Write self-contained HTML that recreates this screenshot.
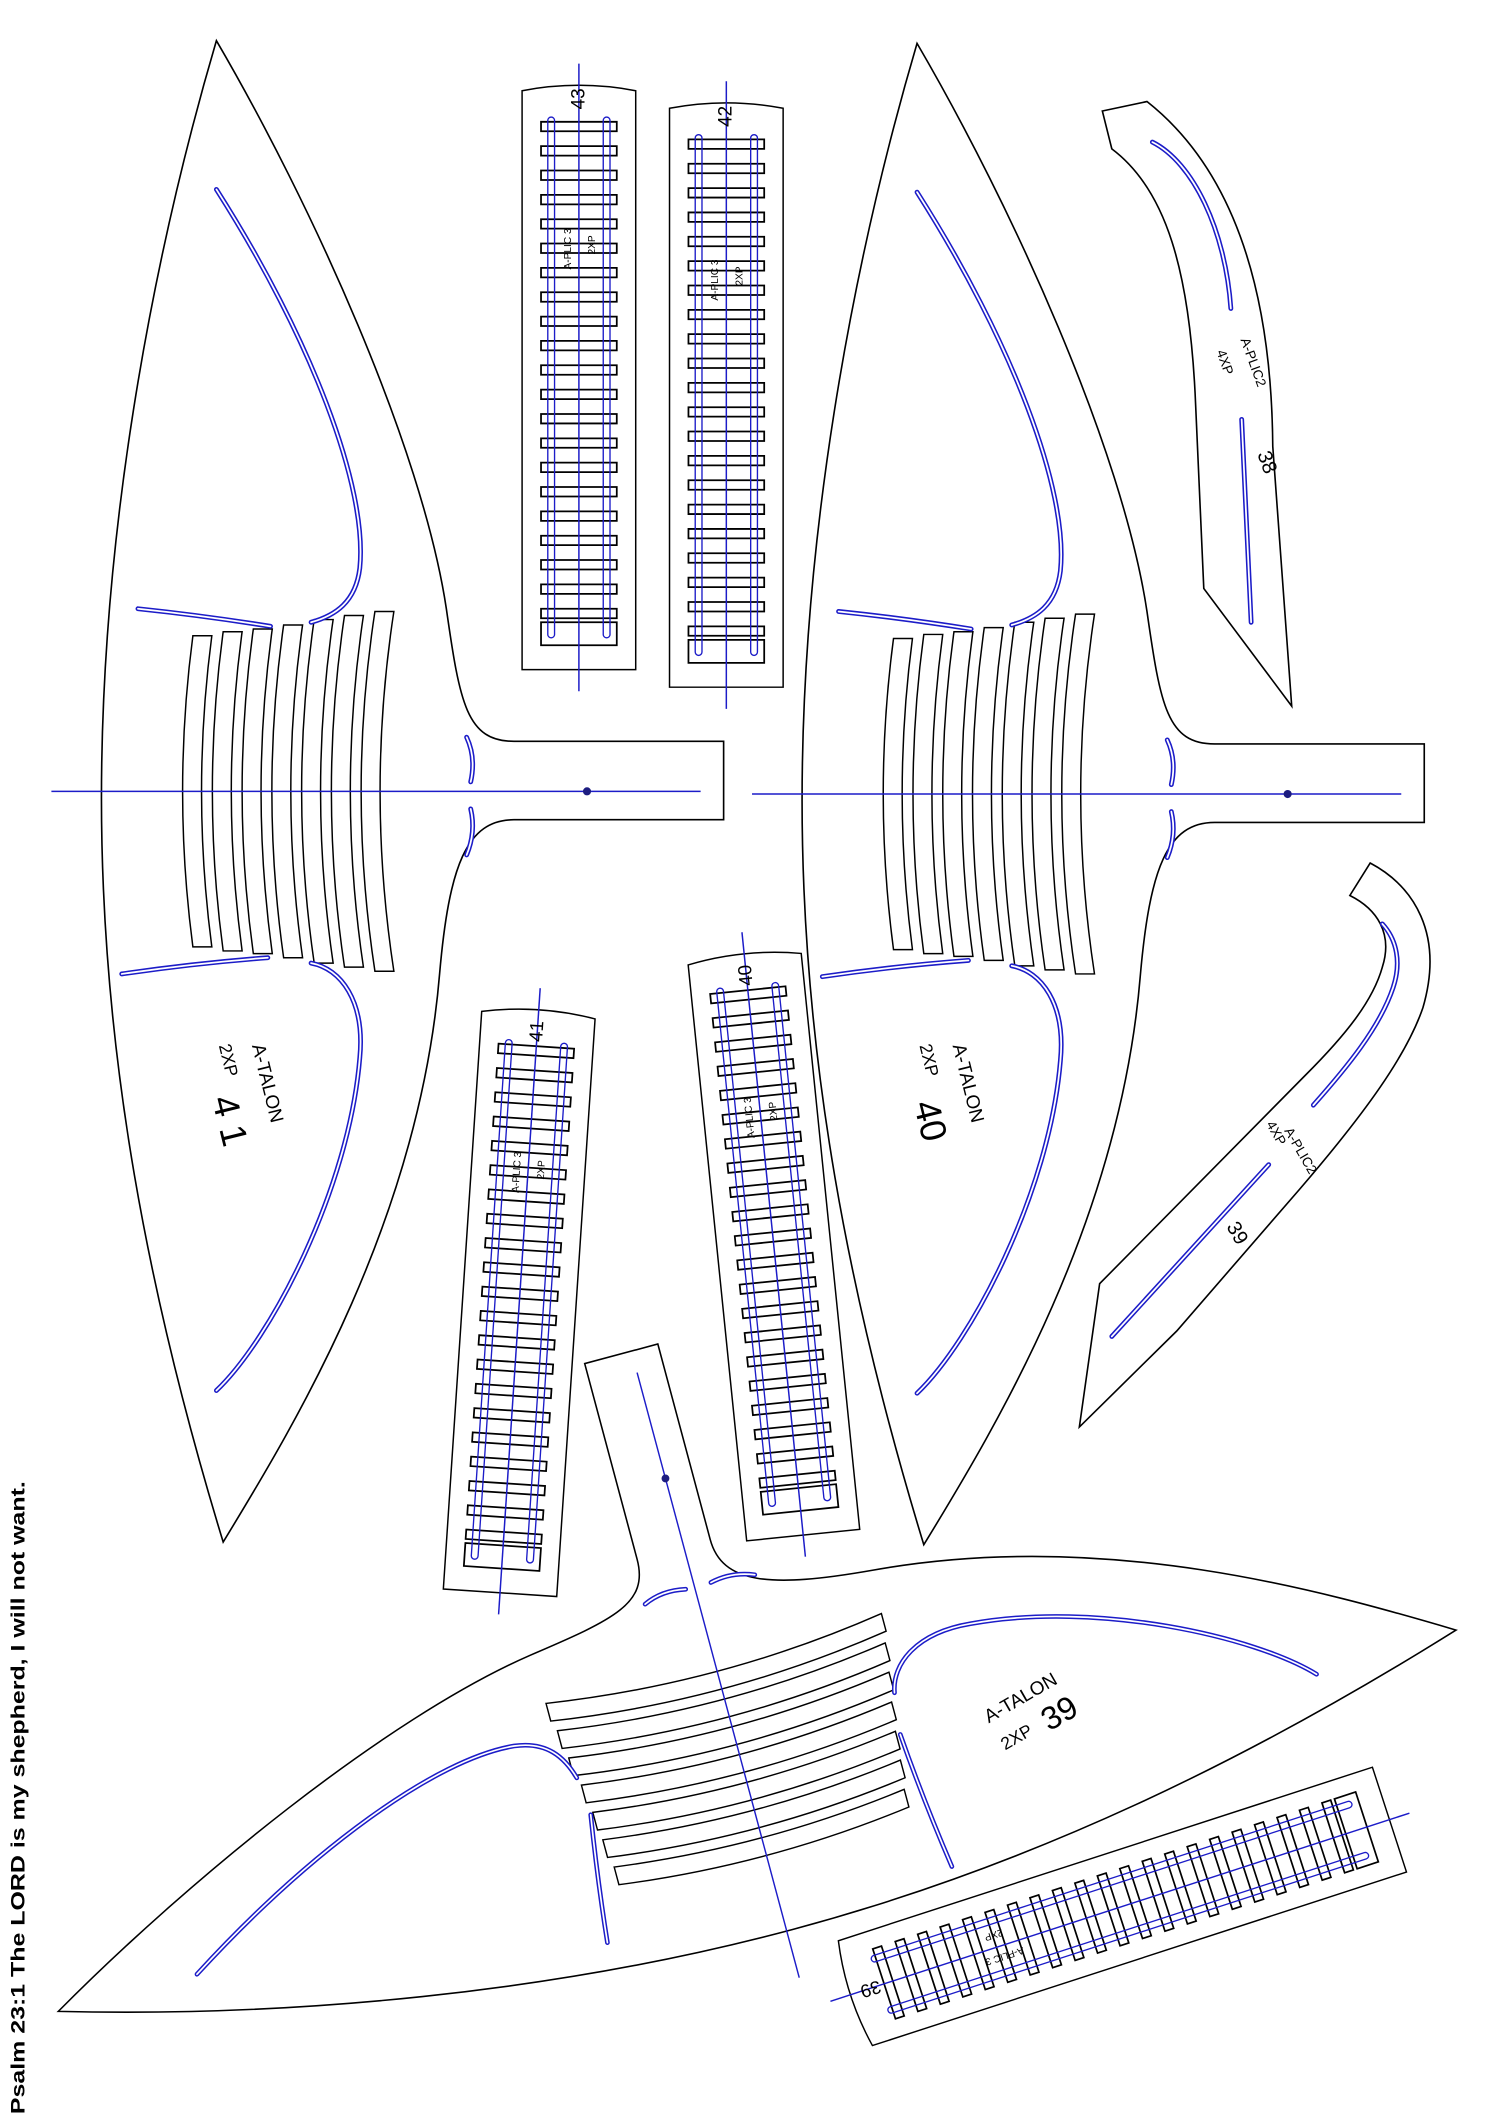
<!DOCTYPE html>
<html><head><meta charset="utf-8"><style>
html,body{margin:0;padding:0;background:#fff}
svg{display:block}
text{font-family:"Liberation Sans",Arial,sans-serif;fill:#000}
</style></head><body>
<svg width="1500" height="2121" viewBox="0 0 1109 1568" xmlns="http://www.w3.org/2000/svg">
<defs>
 <g id="tb" fill="none">
  <path d="M160,140 C230,250 272,360 266,420 C263,445 248,455 230,460"/>
  <path d="M102,450 Q150,455 200,463"/>
  <path d="M90,720 Q145,712 198,708"/>
  <path d="M230,712 C252,716 270,740 266,782 C258,880 200,990 160,1028"/>
  <path d="M345,545 Q352,560 348,578"/>
  <path d="M348,598 Q352,615 345,632"/>
 </g>
 <g id="tal">
  <path d="M160,30 C230,150 312,330 330,450 C340,520 345,548 380,548 L535,548 L535,606 L380,606 C345,606 332,640 325,720 C310,900 220,1050 165,1140 C110,960 75,780 75,590 C75,400 110,200 160,30 Z" fill="none" stroke="#000" stroke-width="1.2"/>
  <g fill="none" stroke="#000" stroke-width="1.1">
   <path d="M142.6,470 Q127.4,585 142.6,700 H156.6 Q141.4,585 156.6,470Z"/>
   <path d="M165,467 Q149,585 165,703 H179 Q163,585 179,467Z"/>
   <path d="M187.3,465 Q170.7,585 187.3,705 H201.3 Q184.7,585 201.3,465Z"/>
   <path d="M209.7,462 Q192.3,585 209.7,708 H223.7 Q206.3,585 223.7,462Z"/>
   <path d="M232.3,458 Q213.7,585 232.3,712 H246.3 Q227.7,585 246.3,458Z"/>
   <path d="M254.7,455 Q235.3,585 254.7,715 H268.7 Q249.3,585 268.7,455Z"/>
   <path d="M277.2,452 Q256.8,585 277.2,718 H291.2 Q270.8,585 291.2,452Z"/>
  </g>
  <g stroke="#1c1cc8" stroke-width="3.6" stroke-linecap="round"><use href="#tb"/></g>
  <g stroke="#fff" stroke-width="1.3" stroke-linecap="round"><use href="#tb"/></g>
  <path d="M38,585 H518" stroke="#1c1cc8" stroke-width="1.1"/>
  <circle cx="434" cy="585" r="3" fill="#1c1c80"/>
 </g>
 <g id="trk">
  <path d="M-42,216 V-212 Q0,-220 42,-212 V216 Z" fill="none" stroke="#000" stroke-width="1.1"/>
  <path fill="none" stroke="#000" stroke-width="1.3" d="M-28,-189h56v7h-56zM-28,-171h56v7h-56zM-28,-153h56v7h-56zM-28,-135h56v7h-56zM-28,-117h56v7h-56zM-28,-99h56v7h-56zM-28,-81h56v7h-56zM-28,-63h56v7h-56zM-28,-45h56v7h-56zM-28,-27h56v7h-56zM-28,-9h56v7h-56zM-28,9h56v7h-56zM-28,27h56v7h-56zM-28,45h56v7h-56zM-28,63h56v7h-56zM-28,81h56v7h-56zM-28,99h56v7h-56zM-28,117h56v7h-56zM-28,135h56v7h-56zM-28,153h56v7h-56zM-28,171h56v7h-56zM-28,181h56v17h-56z"/>
  <path fill="none" stroke="#1c1cc8" stroke-width="1" d="M-23,190 V-190 A2.5,2.5 0 0 1 -18,-190 V190 A2.5,2.5 0 0 1 -23,190 M18,190 V-190 A2.5,2.5 0 0 1 23,-190 V190 A2.5,2.5 0 0 1 18,190"/>
  <path d="M0,-232 V232" stroke="#1c1cc8" stroke-width="1.1"/>
 </g>
</defs>

<use href="#tal"/>
<use href="#tal" transform="translate(518,2)"/>
<use href="#tal" transform="translate(492,1093) rotate(-105) scale(0.965) translate(-434,-585)"/>

<text transform="translate(197,801) rotate(76)" font-size="14" text-anchor="middle" dominant-baseline="middle">A-TALON</text>
<text transform="translate(168,784) rotate(76)" font-size="13" text-anchor="middle" dominant-baseline="middle">2XP</text>
<text transform="translate(168,829) rotate(76)" font-size="27" text-anchor="middle" dominant-baseline="middle">4 1</text>
<text transform="translate(715,801) rotate(76)" font-size="14" text-anchor="middle" dominant-baseline="middle">A-TALON</text>
<text transform="translate(686,784) rotate(76)" font-size="13" text-anchor="middle" dominant-baseline="middle">2XP</text>
<text transform="translate(686,829) rotate(76)" font-size="27" text-anchor="middle" dominant-baseline="middle">40</text>
<text transform="translate(755,1256) rotate(-30)" font-size="14" text-anchor="middle" dominant-baseline="middle">A-TALON</text>
<text transform="translate(752,1285) rotate(-30)" font-size="13" text-anchor="middle" dominant-baseline="middle">2XP</text>
<text transform="translate(784,1268) rotate(-30)" font-size="24" text-anchor="middle" dominant-baseline="middle">39</text>

<g transform="translate(428,279)"><use href="#trk"/>
 <text transform="translate(4,-206) rotate(-90)" font-size="14" text-anchor="middle">43</text>
 <text transform="translate(-6,-95) rotate(-90)" font-size="7.5" text-anchor="middle">A-PLIC 3</text>
 <text transform="translate(12,-98) rotate(-90)" font-size="7.5" text-anchor="middle">2XP</text></g>
<g transform="translate(537,292)"><use href="#trk"/>
 <text transform="translate(4,-206) rotate(-90)" font-size="14" text-anchor="middle">42</text>
 <text transform="translate(-6,-85) rotate(-90)" font-size="7.5" text-anchor="middle">A-PLIC 3</text>
 <text transform="translate(12,-88) rotate(-90)" font-size="7.5" text-anchor="middle">2XP</text></g>
<g transform="translate(384,962) rotate(3.8)"><use href="#trk"/>
 <text transform="translate(4,-200) rotate(-90)" font-size="14" text-anchor="middle">41</text>
 <text transform="translate(-6,-95) rotate(-90)" font-size="7.5" text-anchor="middle">A-PLIC 3</text>
 <text transform="translate(12,-98) rotate(-90)" font-size="7.5" text-anchor="middle">2XP</text></g>
<g transform="translate(572,920) rotate(-5.8)"><use href="#trk"/>
 <text transform="translate(4,-200) rotate(-90)" font-size="14" text-anchor="middle">40</text>
 <text transform="translate(-6,-95) rotate(-90)" font-size="7.5" text-anchor="middle">A-PLIC 3</text>
 <text transform="translate(12,-98) rotate(-90)" font-size="7.5" text-anchor="middle">2XP</text></g>
<g transform="translate(828,1410) rotate(-108) scale(0.97)"><use href="#trk"/>
 <text transform="translate(4,-200) rotate(-90)" font-size="14" text-anchor="middle">39</text>
 <text transform="translate(-6,-95) rotate(-90)" font-size="7.5" text-anchor="middle">A-PLIC 3</text>
 <text transform="translate(12,-98) rotate(-90)" font-size="7.5" text-anchor="middle">2XP</text></g>

<!-- Plic 38 -->
<path d="M815,82 L848,75 C905,120 940,200 941,330 L955,522 L890,435 L884,300 C880,200 862,140 822,110 Z" fill="none" stroke="#000" stroke-width="1.2"/>
<g fill="none" stroke-linecap="round">
 <path d="M852,105 C882,120 906,170 910,228 M918,310 L925,460" stroke="#1c1cc8" stroke-width="3.6"/>
 <path d="M852,105 C882,120 906,170 910,228 M918,310 L925,460" stroke="#fff" stroke-width="1.3"/>
</g>
<text transform="translate(926,268) rotate(70)" font-size="10" text-anchor="middle" dominant-baseline="middle">A-PLIC2</text>
<text transform="translate(905,268) rotate(70)" font-size="10" text-anchor="middle" dominant-baseline="middle">4XP</text>
<text transform="translate(936,342) rotate(70)" font-size="15" text-anchor="middle" dominant-baseline="middle">38</text>

<!-- Plic 39 -->
<path d="M1013,638 L998,662 C1018,672 1030,690 1022,715 C1015,740 995,765 965,795 L813,949 L798,1055 L870,984 L961,879 C1010,822 1040,780 1052,745 C1068,690 1045,655 1013,638 Z" fill="none" stroke="#000" stroke-width="1.2"/>
<g fill="none" stroke-linecap="round">
 <path d="M1022,683 C1033,695 1036,712 1030,730 C1020,760 995,790 971,817 M938,861 L822,988" stroke="#1c1cc8" stroke-width="3.6"/>
 <path d="M1022,683 C1033,695 1036,712 1030,730 C1020,760 995,790 971,817 M938,861 L822,988" stroke="#fff" stroke-width="1.3"/>
</g>
<text transform="translate(961,851) rotate(60)" font-size="10" text-anchor="middle" dominant-baseline="middle">A-PLIC2</text>
<text transform="translate(943,838) rotate(60)" font-size="10" text-anchor="middle" dominant-baseline="middle">4XP</text>
<text transform="translate(914,912) rotate(60)" font-size="15" text-anchor="middle" dominant-baseline="middle">39</text>

<text transform="translate(18,1563) rotate(-90)" font-size="14" font-weight="bold" textLength="468" lengthAdjust="spacingAndGlyphs">Psalm 23:1 The LORD is my shepherd, I will not want.</text>
</svg>
</body></html>
